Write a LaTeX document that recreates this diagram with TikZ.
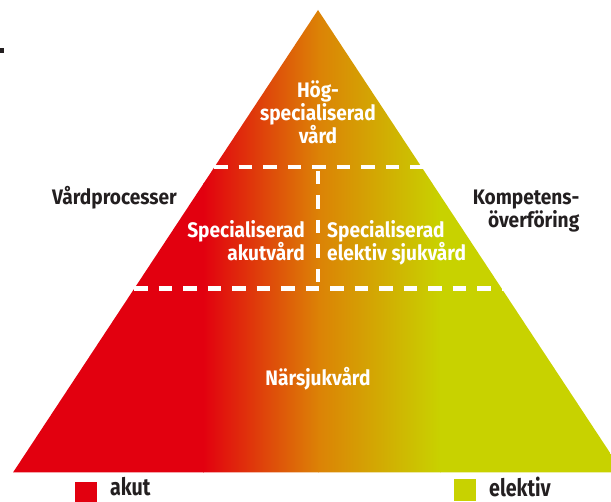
\documentclass[tikz,border=0pt]{standalone}
\usepackage{fontspec}
\newfontfamily\labfont{Fira Sans}[FakeStretch=0.91]
\newfontfamily\legfont{Fira Sans}[FakeStretch=0.82]
\definecolor{akred}{HTML}{E2000F}
\definecolor{akorange}{HTML}{DC8206}
\definecolor{elgreen}{HTML}{C8D200}
\definecolor{txtdark}{HTML}{231F20}
\begin{document}
\begin{tikzpicture}[x=1pt,y=-1pt,
  inlabel/.style={font=\labfont\bfseries\fontsize{21}{23.4}\selectfont, text=white, inner sep=0pt},
  outlabel/.style={font=\labfont\bfseries\fontsize{21}{23.4}\selectfont, text=txtdark, inner sep=0pt},
  leglabel/.style={font=\legfont\bfseries\fontsize{24}{28}\selectfont, text=txtdark, inner sep=0pt},
  sepline/.style={draw=white, line width=4.2pt, dash pattern=on 13.5pt off 11pt}]
\useasboundingbox (0,0) rectangle (611,502);
\begin{scope}
\clip (0,0) rectangle (611,502);
\coordinate (apex) at (318,10);
\coordinate (bl) at (13,472.5);
\coordinate (br) at (623,472.5);
\begin{scope}
\clip (apex) -- (bl) -- (br) -- cycle;
\fill[akred] (0,0) rectangle (204,480);
\shade[left color=akred, right color=akorange] (203,0) rectangle (318.5,480);
\shade[left color=akorange, right color=elgreen] (318,0) rectangle (440.5,480);
\fill[elgreen] (440,0) rectangle (630,480);
\end{scope}
% separators
\coordinate (ul) at (214,167);
\coordinate (ur) at (424,167);
\coordinate (ll) at (134,288.5);
\coordinate (lr) at (504,288.5);
\coordinate (vt) at (318,171);
\coordinate (vb) at (318,288.5);
\draw[sepline] (ul) -- (ur);
\draw[sepline] (ll) -- (lr);
\draw[sepline] (vt) -- (vb);
% labels inside (base anchor = baseline of last line)
\node[inlabel, align=center, anchor=base] (hog) at (318,144) {Hög-\\specialiserad\\vård};
\node[inlabel, align=right, anchor=base east] (akut) at (305,260.7) {Specialiserad\\akutvård};
\node[inlabel, align=left, anchor=base west] (elek) at (327,260.7) {Specialiserad\\elektiv sjukvård};
\node[inlabel, anchor=base] (nars) at (318,386) {Närsjukvård};
% labels outside
\node[outlabel, anchor=base west] (vp) at (52,205) {Vårdprocesser};
\node[outlabel, align=right, anchor=base east] (komp) at (579.5,228) {Kompetens-\\överföring};
% legend
\fill[akred] (75,482.5) rectangle (97,502);
\node[leglabel, anchor=base west] (lakut) at (110,496) {akut};
\fill[elgreen] (454,479) rectangle (476,501);
\node[leglabel, anchor=base west] (lelek) at (489,496.5) {elektiv};
% stray mark
\fill[txtdark] (0,48) rectangle (4,53);
\end{scope}
\end{tikzpicture}
\end{document}
